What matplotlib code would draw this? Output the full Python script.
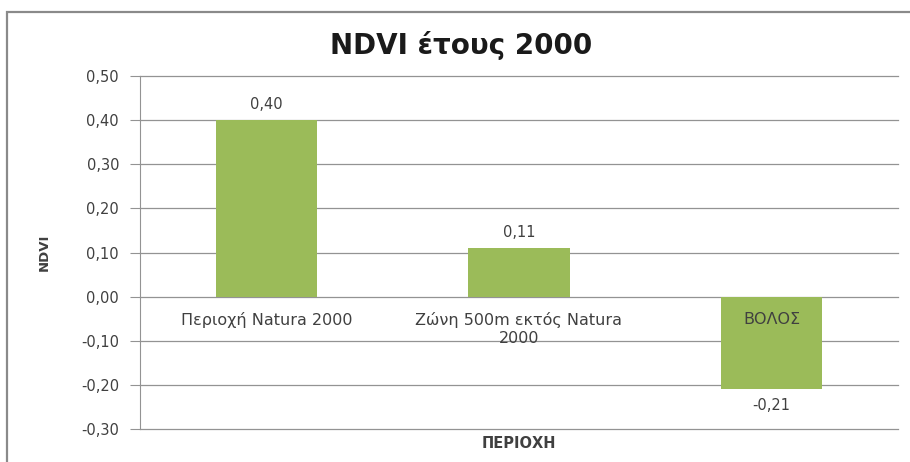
import matplotlib.pyplot as plt
from matplotlib.patches import Rectangle

categories = ["Περιοχή Natura 2000", "Ζώνη 500m εκτός Natura\n2000", "ΒΟΛΟΣ"]
ndvi = [0.40, 0.11, -0.21]
yticks = [-0.30, -0.20, -0.10, 0.00, 0.10, 0.20, 0.30, 0.40, 0.50]

green = "#9bbb59"
grid = "#939393"
txt = "#404040"


def comma(v):
    return f"{v:.2f}".replace(".", ",")


fig = plt.figure(figsize=(9.1, 4.62), dpi=100)
ax = fig.add_axes([0.1538, 0.0714, 0.833, 0.7641])

# chart frame
fig.patches.append(Rectangle((7 / 910, -0.1), 1.2, 1.1 - 12 / 462,
                             transform=fig.transFigure, fill=False,
                             edgecolor="#8a8a8a", linewidth=1.6))

x = range(len(ndvi))
bars = ax.bar(x, ndvi, width=0.4, color=green, zorder=3)
ax.bar_label(bars, labels=[comma(v) for v in ndvi], padding=6,
             fontsize=10.5, color=txt)

ax.set_xlim(-0.5, len(ndvi) - 0.5)
ax.set_ylim(yticks[0], yticks[-1])
ax.set_yticks(yticks)
ax.set_yticklabels([comma(v) for v in yticks])
ax.set_xticks([])
ax.grid(axis="y", color=grid, linewidth=0.9, zorder=0)
for gl in ax.get_ygridlines():
    gl.set_clip_on(False)
ax.tick_params(axis="y", length=7, color=grid, labelsize=10.5,
               labelcolor=txt, pad=8)
for s in ["top", "right", "bottom"]:
    ax.spines[s].set_visible(False)
ax.spines["left"].set_color(grid)

# category names sit just under the zero line
for i, name in enumerate(categories):
    ax.annotate(name, (i, 0), xytext=(0, -11), textcoords="offset points",
                ha="center", va="top", fontsize=11.5, color=txt,
                linespacing=1.25)

fig.text(461 / 910, 1 - 45 / 462, "NDVI έτους 2000", fontsize=20,
         fontweight="bold", color="#1a1a1a", ha="center", va="center")
ax.set_xlabel("ΠΕΡΙΟΧΗ", fontsize=10.5, fontweight="bold", color=txt)
ax.xaxis.set_label_coords(0.5, -0.02)
ax.set_ylabel("NDVI", fontsize=9.5, fontweight="bold", color=txt)
ax.yaxis.set_label_coords(-0.118, 0.5)

fig.savefig("out.png", dpi=100)
